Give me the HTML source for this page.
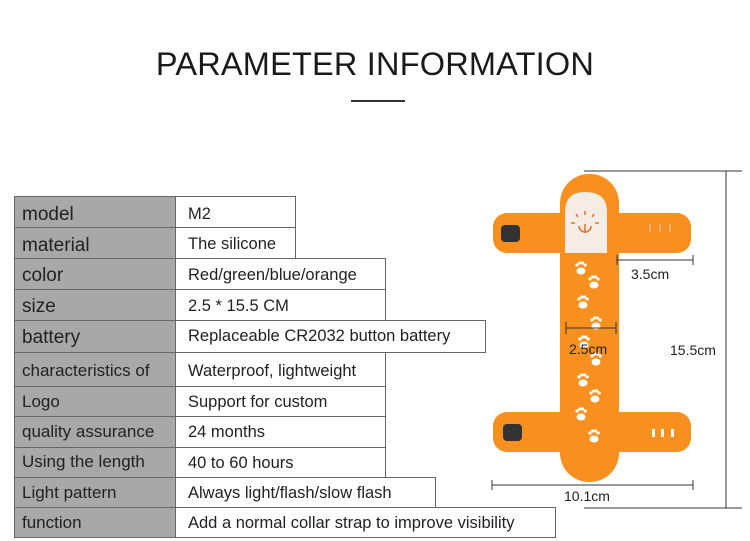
<!DOCTYPE html>
<html><head><style>
body{margin:0;width:750px;height:541px;background:#fff;position:relative;overflow:hidden;font-family:"Liberation Sans",sans-serif}
.t{position:absolute;left:0;right:0;top:46px;text-align:center;font-size:32.5px;color:#1a1a1a;letter-spacing:0.2px}
.bar{position:absolute;left:351px;top:100px;width:54px;height:2px;background:#333}
.l,.r{position:absolute;box-sizing:border-box;border:1.5px solid #666;color:#222;white-space:nowrap}
.l{left:14px;width:162px;background:#a8a8a8;font-size:19px;padding-left:7px}
.r{left:175px;background:#fff;font-size:16.5px;padding-left:12px}
.lab{position:absolute;font-size:14px;color:#222}
</style></head><body>
<div class="t">PARAMETER INFORMATION</div>
<div class="bar"></div>

<div class="l" style="top:196px;height:32px;line-height:36px">model</div><div class="r" style="top:196px;height:32px;width:121px;line-height:34px">M2</div>
<div class="l" style="top:227px;height:32px;line-height:36px">material</div><div class="r" style="top:227px;height:32px;width:121px;line-height:32px">The silicone</div>
<div class="l" style="top:258px;height:32px;line-height:34px">color</div><div class="r" style="top:258px;height:32px;width:211px;line-height:32px">Red/green/blue/orange</div>
<div class="l" style="top:289px;height:32px;line-height:34px">size</div><div class="r" style="top:289px;height:32px;width:211px;line-height:32px">2.5 * 15.5 CM</div>
<div class="l" style="top:320px;height:33px;line-height:34px">battery</div><div class="r" style="top:320px;height:33px;width:311px;line-height:30px">Replaceable CR2032 button battery</div>
<div class="l" style="top:352px;height:35px;line-height:36px;font-size:17px">characteristics of</div><div class="r" style="top:352px;height:35px;width:211px;line-height:36px">Waterproof, lightweight</div>
<div class="l" style="top:386px;height:31px;line-height:30px;font-size:17px">Logo</div><div class="r" style="top:386px;height:31px;width:211px;line-height:30px">Support for custom</div>
<div class="l" style="top:416px;height:32px;line-height:30px;font-size:17px">quality assurance</div><div class="r" style="top:416px;height:32px;width:211px;line-height:30px;padding-left:12px">24 months</div>
<div class="l" style="top:447px;height:31px;line-height:28px;font-size:17px">Using the length</div><div class="r" style="top:447px;height:31px;width:211px;line-height:30px">40 to 60 hours</div>
<div class="l" style="top:477px;height:31px;line-height:30px;font-size:17px">Light pattern</div><div class="r" style="top:477px;height:31px;width:261px;line-height:30px">Always light/flash/slow flash</div>
<div class="l" style="top:507px;height:31px;line-height:30px;font-size:17px">function</div><div class="r" style="top:507px;height:31px;width:381px;line-height:30px">Add a normal collar strap to improve visibility</div>

<svg style="position:absolute;left:0;top:0" width="750" height="541">
<g fill="#f7901e">
<rect x="560" y="174" width="59" height="308" rx="29"/>
<rect x="493" y="213" width="198" height="40" rx="14"/>
<rect x="493" y="412" width="198" height="40" rx="14"/>
</g>
<path d="M565 212 Q565 192 585 192 Q607 192 607 212 L607 253 L565 253Z" fill="#f6ece6"/>
<g stroke="#e0702a" stroke-width="1.5" fill="none">
<path d="M579 226 A6 6 0 1 0 591 226"/><line x1="585" y1="224" x2="585" y2="233"/>
<line x1="585" y1="211" x2="585" y2="215"/><line x1="576" y1="214" x2="578" y2="217"/><line x1="594" y1="214" x2="592" y2="217"/><line x1="571" y1="223" x2="575" y2="223"/><line x1="595" y1="223" x2="599" y2="223"/>
</g>
<rect x="501" y="225" width="19" height="17" rx="4" fill="#333"/>
<rect x="503" y="424" width="19" height="17" rx="4" fill="#333"/>
<defs><g id="paw" fill="#fff"><ellipse cx="0" cy="3" rx="4.5" ry="3.5"/><circle cx="-4" cy="-3" r="1.6"/><circle cx="-1.3" cy="-5" r="1.6"/><circle cx="1.6" cy="-5" r="1.6"/><circle cx="4.2" cy="-3" r="1.6"/></g></defs>
<use href="#paw" x="581" y="268"/><use href="#paw" x="594" y="282"/><use href="#paw" x="583" y="302"/><use href="#paw" x="596" y="323"/><use href="#paw" x="584" y="342"/><use href="#paw" x="596" y="359"/><use href="#paw" x="583" y="380"/><use href="#paw" x="595" y="396"/><use href="#paw" x="581" y="414"/><use href="#paw" x="594" y="436"/>
<g fill="#fbb070"><rect x="649" y="224" width="2" height="8"/><rect x="659" y="224" width="2" height="8"/><rect x="669" y="224" width="2" height="8"/></g>
<g fill="#fff"><rect x="652" y="429" width="3" height="8"/><rect x="661" y="429" width="3" height="8"/><rect x="671" y="429" width="3" height="8"/></g>
<g stroke="#333" stroke-width="1" fill="none">
<line x1="584" y1="171" x2="742" y2="171"/><line x1="584" y1="508" x2="742" y2="508"/><line x1="726" y1="171" x2="726" y2="508"/>
<line x1="617" y1="260" x2="693" y2="260"/><line x1="617" y1="255" x2="617" y2="265"/><line x1="693" y1="255" x2="693" y2="265"/>
<line x1="566" y1="328" x2="616" y2="328"/><line x1="566" y1="322" x2="566" y2="334"/><line x1="616" y1="322" x2="616" y2="334"/>
<line x1="492" y1="485" x2="693" y2="485"/><line x1="492" y1="480" x2="492" y2="490"/><line x1="693" y1="480" x2="693" y2="490"/>
</g>
</svg>
<div class="lab" style="left:631px;top:266px">3.5cm</div>
<div class="lab" style="left:569px;top:341px">2.5cm</div>
<div class="lab" style="left:670px;top:342px">15.5cm</div>
<div class="lab" style="left:564px;top:488px">10.1cm</div>
</body></html>
